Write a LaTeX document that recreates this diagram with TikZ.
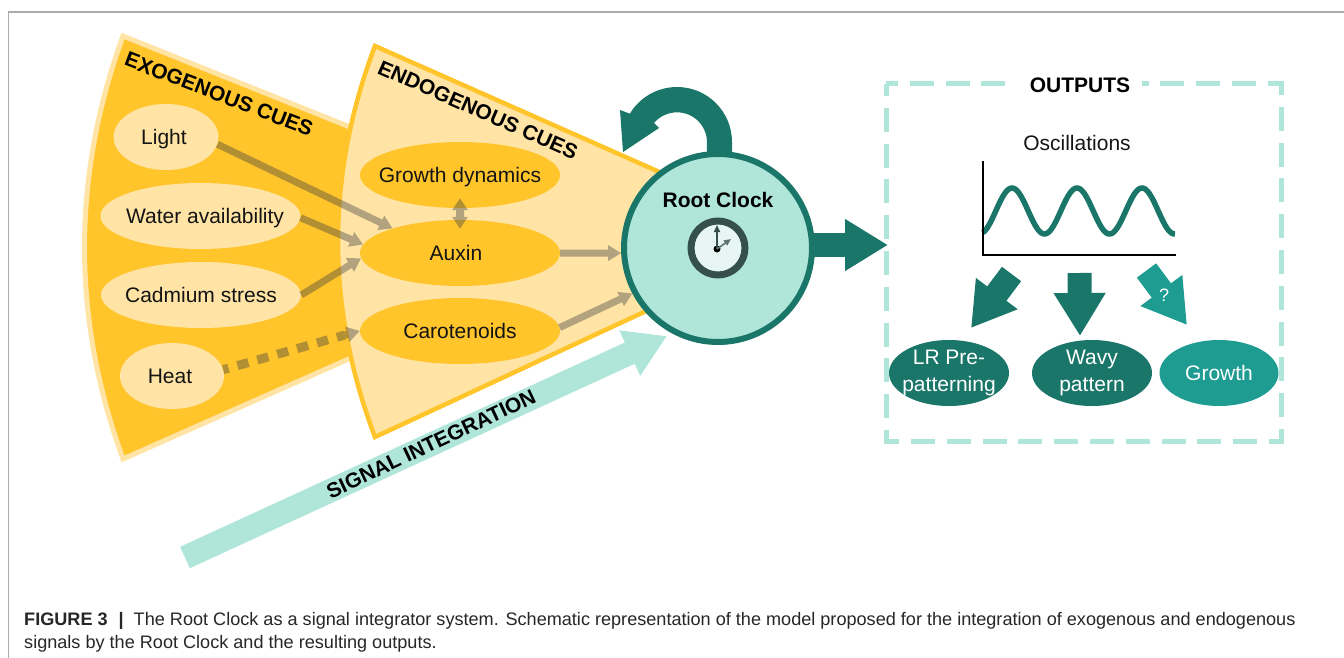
\documentclass[tikz,border=0pt]{standalone}
\usepackage{fontspec}
\setmainfont{Liberation Sans}
\usetikzlibrary{arrows.meta,shapes.geometric}
\definecolor{exoC}{HTML}{FFC52B}
\definecolor{paleC}{HTML}{FFE4A6}
\definecolor{tealD}{HTML}{1B766A}
\definecolor{tealM}{HTML}{1E9C92}
\definecolor{mintC}{HTML}{B0E6D9}
\definecolor{ringC}{HTML}{35504C}
\definecolor{faceC}{HTML}{E8F6F3}
\definecolor{linkC}{HTML}{404040}
\newcommand{\fitt}[2][0pt]{\makebox[0pt]{\hspace*{#1}\raisebox{-.36em}[0pt][0pt]{#2}}}
\newcommand{\fittwo}[2]{\makebox[0pt]{\raisebox{-.25em}[0pt][0pt]{\begin{tabular}{@{}c@{}}#1\\#2\end{tabular}}}}
\tikzset{
  x=1pt,y=-1pt,
  txt/.style={font=\fontsize{21}{27}\selectfont,text=black!92},
  bold/.style={font=\fontsize{21}{27}\selectfont\bfseries,text=black},
  oval/.style={ellipse,inner sep=0pt,minimum width=#1,minimum height=66pt,font=\fontsize{21}{27}\selectfont},
  pale/.style={oval=#1,fill=paleC,text=black!92},
  gold/.style={oval=#1,fill=exoC,text=black!92},
  dark/.style={oval=#1,fill=tealD,text=white},
  midt/.style={oval=#1,fill=tealM,text=white},
  link/.style={draw=linkC,line width=7pt,-{Triangle[length=13pt,width=15pt]}},
  blockarrow/.style={line width=24pt,-{Triangle[length=43pt,width=49pt]}},
  caption/.style={anchor=base west,inner sep=0pt,text=black!85,font=\fontsize{18.1}{22}\selectfont},
}
\begin{document}
\begin{tikzpicture}
\useasboundingbox (0,0) rectangle (1344,658);
\draw[draw=black!33,line width=1.5pt] (8.5,658) -- (8.5,12) -- (1344,12);

% wedges
\filldraw[fill=exoC,draw=paleC,line width=5pt,miter limit=10]
  (123,36) .. controls (71.7,177) and (71.7,318) .. (123,459) -- (360,354) -- (360,131) -- cycle;
\filldraw[fill=paleC,draw=exoC,line width=4.5pt,miter limit=10]
  (375,46) .. controls (325.7,176) and (325.7,307) .. (375,437) -- (700,286) -- (700,190) -- cycle;

% self loop
\fill[tealD] (732,158) -- (732,142) arc[start angle=0,end angle=149,radius=55pt]
  -- (620,110) -- (623,152) -- (659,128) -- (654,123)
  arc[start angle=140,end angle=0,radius=30pt] -- (707,158) -- cycle;

% signal integration
\coordinate (sigtail) at (185,557.5);
\coordinate (sigtip) at (667,336);
\draw[draw=mintC,line width=23.5pt,-{Triangle[length=41pt,width=47pt]}] (sigtail) -- (sigtip);
\node[bold,rotate=25.2,inner sep=0pt] (siglabel) at (431,444) {SIGNAL INTEGRATION};

% root clock
\node[circle,draw=tealD,fill=mintC,line width=6pt,minimum size=188pt,inner sep=0pt] (clock) at (718,248) {};
\node[bold,inner sep=0pt] (clocklabel) at (718,200) {Root Clock};
\node[circle,draw=ringC,fill=faceC,line width=7pt,minimum size=54pt,inner sep=0pt] (dial) at (718,248) {};
\node[circle,fill=black,minimum size=7pt,inner sep=0pt] (hub) at (717,249) {};
\coordinate (minutetip) at (717,225);
\coordinate (hourtip) at (731,239);
\draw[draw=ringC,line width=1.6pt,-{Triangle[length=7pt,width=6pt]}] (hub.center) -- (minutetip);
\draw[draw=ringC!80,line width=1.6pt,-{Triangle[length=7pt,width=6pt]}] (hub.center) -- (hourtip);

% cue labels
\node[bold,rotate=-21,inner sep=0pt] (exolabel) at (219,94) {EXOGENOUS CUES};
\node[bold,rotate=-23.8,inner sep=0pt] (endolabel) at (478,110) {ENDOGENOUS CUES};

% cue nodes
\node[pale=105pt] (light) at (166,137) {\fitt[-4pt]{Light}};
\node[pale=200pt] (water) at (200.5,216) {\fitt[9pt]{Water availability}};
\node[pale=200pt] (cadmium) at (201,295) {\fitt{Cadmium stress}};
\node[pale=104pt] (heat) at (172,376) {\fitt[-4pt]{Heat}};
\node[gold=200pt] (growthdyn) at (460,175) {\fitt{Growth dynamics}};
\node[gold=200pt] (auxin) at (460,253) {\fitt[-8pt]{Auxin}};
\node[gold=200pt] (carot) at (460,331) {\fitt{Carotenoids}};

% influence arrows
\begin{scope}[transparency group,opacity=.4]
\draw[link] (light.-8) -- (auxin.160);
\draw[link] (water.-1) -- (auxin.175);
\draw[link] (cadmium.east) -- (auxin.183);
\draw[draw=linkC,line width=9pt,dash pattern=on 11.5pt off 9.2pt,dash phase=6pt] (heat.7) -- ([shift={(-15,4)}]carot.west);
\draw[draw=linkC,line width=7pt,-{Triangle[length=13pt,width=15pt]}] ([shift={(-15,4)}]carot.west) -- (carot.west);
\draw[draw=linkC,line width=8pt,{Triangle[length=12pt,width=15pt]}-{Triangle[length=12pt,width=15pt]},shorten <=-10pt,shorten >=-9pt] (growthdyn.south) -- (auxin.north);
\draw[link] (auxin.east) -- (clock.183);
\draw[link] (carot.2) -- (clock.208);
\end{scope}

% outputs frame
\draw[draw=mintC,line width=5pt,dash pattern=on 24pt off 11.81pt,dash phase=12pt] (886,84) -- (1281,84) -- (1281,441) -- (886,441) -- cycle;
\node[bold,fill=white,minimum width=134pt,minimum height=22pt,inner sep=0pt] (outtitle) at (1075,85) {\hspace*{10pt}OUTPUTS};

% clock to outputs
\coordinate (outstart) at (812,245);
\coordinate (outtip) at (888,245);
\draw[draw=tealD,blockarrow] (outstart) -- (outtip);

% oscillations
\node[txt,inner sep=0pt] (osc) at (1077,143) {Oscillations};
\coordinate (axtop) at (983,161);
\coordinate (axorg) at (983,255);
\coordinate (axend) at (1176,255);
\draw[draw=tealD,line width=5.5pt] plot[domain=983:1175,samples=120,smooth] (\x,{211-23*cos((\x-1012)*5.5385)});
\draw[draw=black,line width=2.5pt,line join=miter] (axtop) -- (axorg) -- (axend);

% output nodes
\node[dark=120pt] (lr) at (949,373) {\fittwo{LR Pre-}{patterning}};
\node[dark=120pt] (wavy) at (1092,373) {\fittwo{Wavy}{pattern}};
\node[midt=119pt] (growth) at (1219,373) {\fitt{Growth}};

% output arrows
\coordinate (ls) at (1011.5,274);
\coordinate (ms) at (1079.5,273);
\coordinate (rs) at (1146.5,270.5);
\draw[draw=tealD,blockarrow] (ls) -- (971,328);
\draw[draw=tealD,blockarrow] (ms) -- (1080,336);
\draw[draw=tealM,blockarrow] (rs) -- (1187,325);
\node[text=white,font=\fontsize{18}{20}\selectfont,inner sep=0pt] (qmark) at (1164,295) {?};

% caption
\node[caption] (cap1) at (24,625)
  {\textbf{FIGURE 3}\hspace{11pt}\textbf{|}\hspace{10pt}The Root Clock as a signal integrator system. Schematic representation of the model proposed for the integration of exogenous and endogenous};
\node[caption] (cap2) at (24,648)
  {signals by the Root Clock and the resulting outputs.};
\end{tikzpicture}
\end{document}
